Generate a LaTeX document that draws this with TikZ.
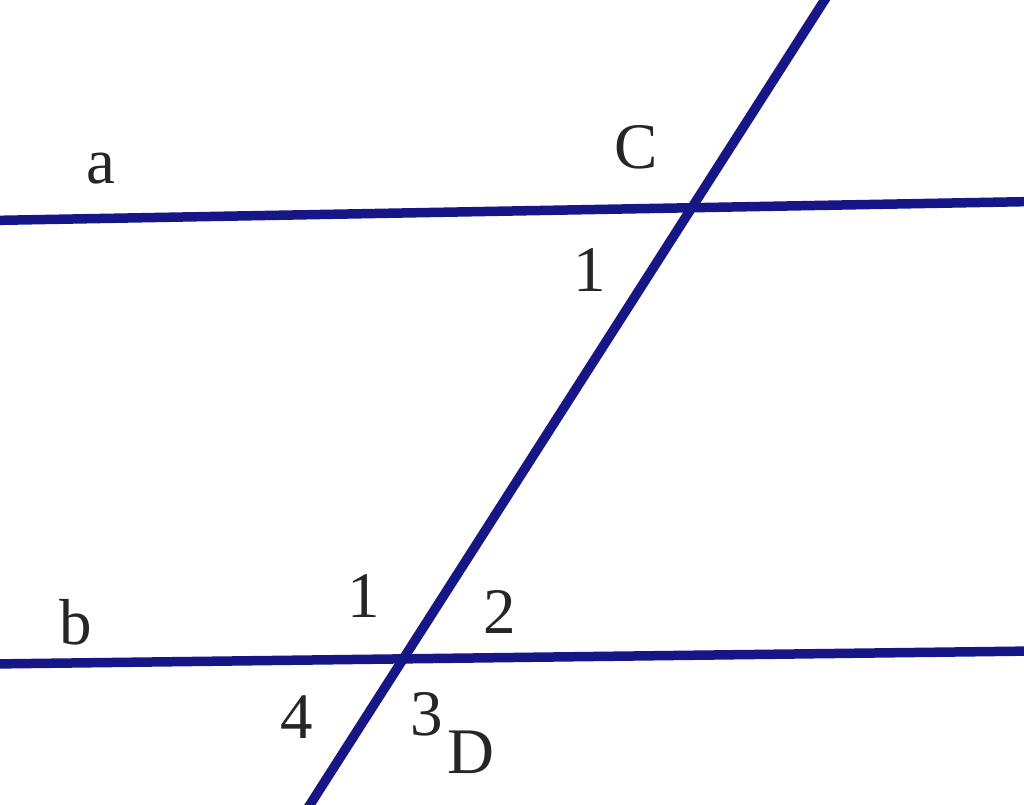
\documentclass[tikz,border=0pt]{standalone}
\usepackage{fontspec}
\setmainfont{Liberation Serif}
\definecolor{navy}{RGB}{22,22,135}
\begin{document}
\begin{tikzpicture}[x=1pt,y=-1pt,
  ln/.style={draw=navy,line width=9.5pt},
  lbl/.style={inner sep=0pt,font=\fontsize{65}{70}\selectfont,text=black!85}]
\useasboundingbox (0,0) rectangle (1024,804);
\clip (0,0) rectangle (1024,804);
\fill[white] (0,0) rectangle (1024,804);
\coordinate (a1) at (-10,220.5);
\coordinate (a2) at (1034,201.5);
\coordinate (b1) at (-10,664);
\coordinate (b2) at (1034,651);
\coordinate (t1) at (831,-10);
\coordinate (t2) at (304,814);
\draw[ln] (a1) -- (a2);
\draw[ln] (b1) -- (b2);
\draw[ln] (t1) -- (t2);
\node[lbl] (la) at (101,169) {a};
\node[lbl] (lC) at (636,147) {C};
\node[lbl] (lc1) at (590,270) {1};
\node[lbl] (lb) at (76,622) {b};
\node[lbl] (ld1) at (364,596) {1};
\node[lbl] (ld2) at (500,612) {2};
\node[lbl] (ld4) at (297,717) {4};
\node[lbl] (ld3) at (427,714) {3};
\node[lbl] (lD) at (471,752) {D};
\end{tikzpicture}
\end{document}
